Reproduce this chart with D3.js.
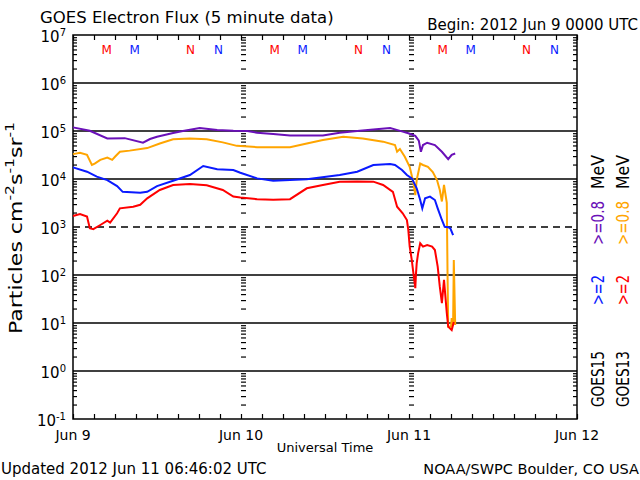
<!DOCTYPE html>
<html><head><meta charset="utf-8">
<script src="https://cdn.jsdelivr.net/npm/d3@7"></script>
<style>
body{margin:0;background:#fff}
svg{display:block}
text{font-family:"DejaVu Sans",sans-serif;fill:#000}
</style>
</head><body>
<svg id="c" width="640" height="480"></svg>
<script>
// ---------- DATA ----------
const dayLabels = ["Jun 9", "Jun 10", "Jun 11", "Jun 12"];
const yTickExponents = [-1, 0, 1, 2, 3, 4, 5, 6, 7];
const gridExponents = [0, 1, 2, 4, 5, 6];
const dashedExponents = [3];

// hours since 2012 Jun 9 00:00 UTC
const g15e08Hours = [0,2.4,4.9,7.4,10,11,12,14.3,15.7,18.1,20.6,22.9,24.9,26.3,28.6,31,35.7,38.1,40.6,42.9,45.3,46,47.1,47.9,48.9,49.4,49.7,50,50.6,51.7,52.7,53.6,54.1,54.6];
const g15e08Flux  = [1.19e5,1.01e5,7.0e4,7.1e4,5.7e4,6.8e4,7.6e4,9.1e4,1.0e5,1.15e5,1.05e5,1.01e5,1.0e5,9.2e4,8.7e4,8.1e4,8.1e4,9.2e4,1.0e5,1.08e5,1.15e5,1.08e5,9.7e4,9.0e4,7.9e4,6.3e4,3.7e4,5.1e4,5.7e4,5.1e4,3.7e4,2.6e4,3.2e4,3.4e4];

const g13e08Hours = [0,1,2,2.7,3.1,3.9,4.9,5.6,6,6.7,8.1,10.6,12.4,14.3,16.7,19.1,21.4,23.4,26.3,28.9,31,33.4,35.7,38.6,41.4,44.3,46,46.3,46.7,47.4,48.1,48.6,48.9,49.1,49.6,50,50.7,51.4,52,52.4,52.7,53,53.4,53.5,53.6,54,54.1,54.3,54.4,54.6];
const g13e08Flux  = [3.3e4,3.5e4,3.2e4,1.96e4,2.1e4,2.5e4,2.8e4,2.5e4,2.9e4,3.7e4,3.9e4,4.4e4,5.5e4,6.7e4,7.0e4,6.7e4,5.8e4,4.9e4,4.6e4,4.6e4,4.6e4,5.5e4,6.5e4,7.6e4,7.0e4,6.0e4,5.1e4,3.7e4,4.2e4,2.9e4,1.8e4,8.8e3,4.6e3,9.5e3,2.1e4,1.96e4,1.8e4,1.4e4,9.5e3,5.9e3,3.4e3,7.5e3,3.2e3,127,8.4,8.4,12.7,9,205,9.1];

const g15e2Hours = [0,2,3.4,4.9,6.3,7.1,9.6,10.6,12,14.3,16.7,18.6,20.6,22.9,23.9,26.3,28.6,33.4,38.1,40.6,42.9,45.3,46,47,47.7,48.4,49.1,49.6,49.9,50.3,51,51.7,52.1,52.7,53.1,53.6,53.9,54.3];
const g15e2Flux  = [1.75e4,1.42e4,1.12e4,9.5e3,7.1e3,5.4e3,5.2e3,5.4e3,7.1e3,9.2e3,1.21e4,1.87e4,1.59e4,1.54e4,1.35e4,1.03e4,9.2e3,9.9e3,1.21e4,1.42e4,1.96e4,2.05e4,1.96e4,1.54e4,1.21e4,1.03e4,6.4e3,3.65e3,2.45e3,3.96e3,4.3e3,3.65e3,2.45e3,1.4e3,1.01e3,990,940,680];

const g13e2Hours = [0,1,2,2.4,2.9,3.9,4.9,5.3,6.3,6.7,8.6,9.6,10.6,12.4,14.3,16.7,19.1,21.4,22.9,23.9,26.3,28.6,31,33.4,35.7,38.1,40.6,42.9,44.3,45.7,46.3,47.1,47.7,47.9,48.1,48.4,48.6,48.9,49,49.1,49.3,49.6,50,50.6,51.3,51.7,52.1,52.4,52.7,53,53.4,53.6,54.1,54.4];
const g13e2Flux  = [1.69e3,1.87e3,1.65e3,940,900,1.1e3,1.35e3,1.23e3,1.93e3,2.45e3,2.65e3,2.9e3,3.96e3,5.9e3,7.5e3,7.9e3,7.4e3,5.9e3,4.3e3,4.1e3,3.8e3,3.7e3,3.8e3,6.4e3,7.5e3,8.8e3,8.9e3,8.8e3,7.5e3,5.4e3,2.65e3,1.93e3,1.4e3,870,390,205,117,53,108,175,283,457,390,420,390,332,149,57,26,79,16,8.4,7.1,10.5];

// local midnight (M) / noon (N) markers, hours of each day
const g13MidnightHour = 4.8, g13NoonHour = 16.8;
const g15MidnightHour = 8.8, g15NoonHour = 20.8;

const colors = {g15e08:"#6a10b8", g13e08:"#ffa500", g15e2:"#0a1aff", g13e2:"#ff0000"};

// ---------- CHART ----------
const svg = d3.select("#c");
const L = 73, R = 577, T = 35, B = 419;
const t0 = Date.UTC(2012,5,9);
const H = 3600e3;
const x = d3.scaleUtc().domain([new Date(t0), new Date(t0 + 72*H)]).range([L, R]);
const y = d3.scaleLog().domain([0.1, 1e7]).range([B, T]);

const minorVals = [];
for (let e = -1; e < 7; e++) for (let m = 2; m <= 9; m++) minorVals.push(m * Math.pow(10, e));

// grid lines
svg.append("g").selectAll("line").data(gridExponents).join("line")
  .attr("x1", L).attr("x2", R)
  .attr("y1", d => y(Math.pow(10, d))).attr("y2", d => y(Math.pow(10, d)))
  .attr("stroke", "#000").attr("stroke-width", 1.5);
svg.append("g").selectAll("line").data(dashedExponents).join("line")
  .attr("x1", L).attr("x2", R)
  .attr("y1", d => y(Math.pow(10, d))).attr("y2", d => y(Math.pow(10, d)))
  .attr("stroke", "#000").attr("stroke-width", 1.5).attr("stroke-dasharray", "7,5");

function styleAxis(g){
  g.select(".domain").remove();
  g.selectAll(".tick line").attr("stroke", "#000").attr("stroke-width", 1.2);
  g.selectAll(".tick text").remove();
}
// left / right minor ticks
svg.append("g").attr("transform", `translate(${L},0)`)
  .call(d3.axisLeft(y).tickValues(minorVals).tickSize(-4).tickFormat("")).call(styleAxis);
svg.append("g").attr("transform", `translate(${R},0)`)
  .call(d3.axisRight(y).tickValues(minorVals).tickSize(-4).tickFormat("")).call(styleAxis);
// day-boundary tick columns
[1, 2].forEach(d => {
  svg.append("g").attr("transform", `translate(${x(new Date(t0 + d*24*H))},0)`)
    .call(d3.axisRight(y).tickValues(minorVals).tickSize(5).tickFormat("")).call(styleAxis);
});
// time ticks every 3h
svg.append("g").attr("transform", `translate(0,${B})`)
  .call(d3.axisBottom(x).ticks(d3.utcHour.every(3)).tickSize(-5).tickFormat("")).call(styleAxis);
svg.append("g").attr("transform", `translate(0,${T})`)
  .call(d3.axisTop(x).ticks(d3.utcHour.every(3)).tickSize(-5).tickFormat("")).call(styleAxis);

// frame
svg.append("rect").attr("x", L).attr("y", T).attr("width", R - L).attr("height", B - T)
  .attr("fill", "none").attr("stroke", "#000").attr("stroke-width", 1.5);

// series
const line = d3.line().x(d => x(new Date(t0 + d[0]*H))).y(d => y(d[1]));
const series = [
  [g13e08Hours, g13e08Flux, colors.g13e08],
  [g15e08Hours, g15e08Flux, colors.g15e08],
  [g13e2Hours, g13e2Flux, colors.g13e2],
  [g15e2Hours, g15e2Flux, colors.g15e2]
];
series.forEach(([h, f, c]) => {
  svg.append("path").datum(h.map((v, i) => [v, f[i]]))
    .attr("d", line).attr("fill", "none").attr("stroke", c).attr("stroke-width", 2)
    .attr("stroke-linejoin", "miter");
});

// M / N markers
const marks = [];
for (let d = 0; d < 3; d++) {
  marks.push({h: d*24 + g13MidnightHour, t: "M", c: colors.g13e2});
  marks.push({h: d*24 + g15MidnightHour, t: "M", c: colors.g15e2});
  marks.push({h: d*24 + g13NoonHour, t: "N", c: colors.g13e2});
  marks.push({h: d*24 + g15NoonHour, t: "N", c: colors.g15e2});
}
svg.append("g").selectAll("text").data(marks).join("text")
  .attr("x", d => x(new Date(t0 + d.h*H))).attr("y", 54)
  .attr("text-anchor", "middle").attr("font-size", 12)
  .style("fill", d => d.c).text(d => d.t);

// y tick labels
const yl = svg.append("g").selectAll("text").data(yTickExponents).join("text")
  .attr("x", 66).attr("y", d => y(Math.pow(10, d)) + 7)
  .attr("text-anchor", "end").attr("font-size", 15);
yl.append("tspan").text("10");
yl.append("tspan").attr("dy", -6).attr("font-size", 10).text(d => String(d));

// x tick labels
svg.append("g").selectAll("text").data(dayLabels).join("text")
  .attr("x", (d, i) => x(new Date(t0 + i*24*H))).attr("y", 440)
  .attr("text-anchor", "middle").attr("font-size", 14).text(d => d);

svg.append("text").attr("x", 325).attr("y", 452).attr("text-anchor", "middle")
  .attr("font-size", 13).text("Universal Time");

// titles
svg.append("text").attr("x", 40).attr("y", 23).attr("font-size", 16.5)
  .text("GOES Electron Flux (5 minute data)");
svg.append("text").attr("x", 638).attr("y", 30).attr("text-anchor", "end").attr("font-size", 15)
  .text("Begin: 2012 Jun 9 0000 UTC");
svg.append("text").attr("x", 1).attr("y", 474).attr("font-size", 15)
  .text("Updated 2012 Jun 11 06:46:02 UTC");
svg.append("text").attr("x", 639).attr("y", 474).attr("text-anchor", "end").attr("font-size", 14.5)
  .text("NOAA/SWPC Boulder, CO USA");

// y axis title
const yt = svg.append("text").attr("transform", "translate(22,228) rotate(-90)")
  .attr("text-anchor", "middle").attr("font-size", 17)
  .attr("textLength", 212).attr("lengthAdjust", "spacingAndGlyphs");
yt.append("tspan").text("Particles cm");
yt.append("tspan").attr("dy", -8).attr("font-size", 12).text("-2");
yt.append("tspan").attr("dy", 8).text("s");
yt.append("tspan").attr("dy", -8).attr("font-size", 12).text("-1");
yt.append("tspan").attr("dy", 8).text("sr");
yt.append("tspan").attr("dy", -8).attr("font-size", 12).text("-1");

// right legend
const legend = [
  {x: 604, y: 379, t: "GOES15", c: "#000", len: 56},
  {x: 604, y: 290, t: ">=2", c: colors.g15e2, len: 30},
  {x: 604, y: 223, t: ">=0.8", c: colors.g15e08, len: 44},
  {x: 604, y: 172, t: "MeV", c: "#000", len: 34},
  {x: 629, y: 379, t: "GOES13", c: "#000", len: 56},
  {x: 629, y: 290, t: ">=2", c: colors.g13e2, len: 30},
  {x: 629, y: 223, t: ">=0.8", c: colors.g13e08, len: 44},
  {x: 629, y: 172, t: "MeV", c: "#000", len: 34}
];
svg.append("g").selectAll("text").data(legend).join("text")
  .attr("transform", d => `translate(${d.x},${d.y}) rotate(-90)`)
  .attr("text-anchor", "middle").attr("font-size", 18)
  .attr("textLength", d => d.len).attr("lengthAdjust", "spacingAndGlyphs")
  .style("fill", d => d.c).text(d => d.t);
</script>
</body></html>
